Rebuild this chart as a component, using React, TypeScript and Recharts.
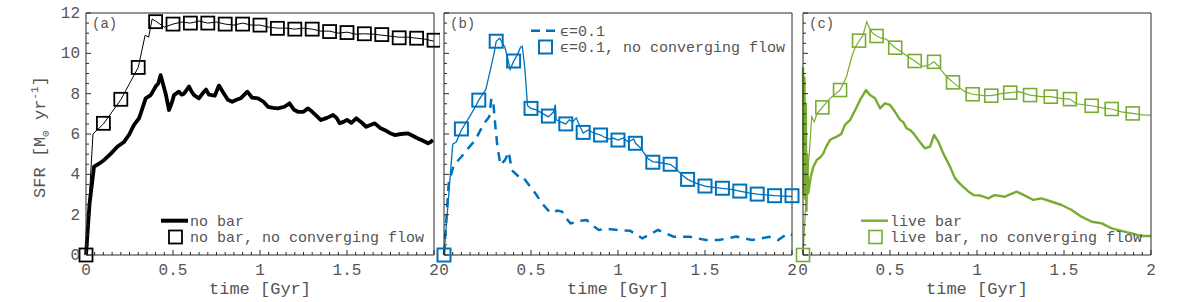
import React from 'react';
import { ComposedChart, Line, Scatter, XAxis, YAxis, Legend, Label } from 'recharts';

const FONT = '"Liberation Mono", "DejaVu Sans Mono", monospace';
const INK = '#555';
const FRAME = '#2b2b2b';
const BLUE = '#0072BD';
const GREEN = '#77AC30';

// axis ticks
const X_MAJOR = [0, 0.5, 1, 1.5, 2];
const Y_MAJOR = [0, 2, 4, 6, 8, 10, 12];
const X_TICKS = Array.from({ length: 41 }, (_, i) => i / 20);
const Y_TICKS = Array.from({ length: 25 }, (_, i) => i / 2);

const X_LABEL = 'time [Gyr]';
const PANEL_TAGS = ['(a)', '(b)', '(c)'];
const LEGEND_A = ['no bar', 'no bar, no converging flow'];
const LEGEND_B = ['ϵ=0.1', 'ϵ=0.1, no converging flow'];
const LEGEND_C = ['live bar', 'live bar, no converging flow'];

// (a) no bar
const A_BAR_T = [0, 0.02, 0.046, 0.07, 0.103, 0.14, 0.18, 0.218, 0.25, 0.276, 0.305, 0.325, 0.343, 0.372, 0.4, 0.415, 0.429, 0.445, 0.458, 0.477, 0.495, 0.506, 0.534, 0.55, 0.563, 0.592, 0.607, 0.621, 0.649, 0.678, 0.69, 0.707, 0.74, 0.764, 0.793, 0.815, 0.84, 0.865, 0.889, 0.927, 0.955, 0.989, 1.02, 1.046, 1.075, 1.103, 1.14, 1.17, 1.195, 1.218, 1.25, 1.276, 1.3, 1.325, 1.35, 1.385, 1.42, 1.44, 1.458, 1.48, 1.5, 1.525, 1.553, 1.58, 1.61, 1.635, 1.66, 1.69, 1.716, 1.745, 1.774, 1.81, 1.85, 1.88, 1.908, 1.94, 1.966, 1.98, 1.994];
const A_BAR_SFR = [0, 2.5, 4.38, 4.5, 4.7, 5.0, 5.37, 5.6, 6.0, 6.45, 6.78, 7.3, 7.77, 7.93, 8.35, 8.5, 8.92, 8.4, 8.0, 7.19, 7.6, 7.93, 8.1, 7.95, 8.0, 8.35, 8.1, 7.93, 7.77, 8.1, 8.2, 7.95, 7.9, 8.4, 8.0, 7.7, 7.6, 7.7, 7.77, 8.1, 7.8, 7.77, 7.6, 7.35, 7.3, 7.27, 7.35, 7.52, 7.2, 7.1, 7.1, 7.27, 7.1, 6.9, 6.69, 6.8, 6.94, 6.8, 6.53, 6.6, 6.7, 6.55, 6.78, 6.6, 6.36, 6.45, 6.53, 6.3, 6.2, 6.05, 5.95, 6.0, 6.03, 5.9, 5.78, 5.65, 5.54, 5.6, 5.7];

// (a) no bar, no converging flow
const A_NCF_T = [0, 0.04, 0.1, 0.2, 0.3, 0.34, 0.36, 0.38, 0.4, 0.45, 0.5, 0.55, 0.6, 0.65, 0.7, 0.75, 0.8, 0.85, 0.9, 0.95, 1.0, 1.05, 1.1, 1.15, 1.2, 1.25, 1.3, 1.35, 1.4, 1.45, 1.5, 1.55, 1.6, 1.65, 1.7, 1.75, 1.8, 1.85, 1.9, 1.95, 2.0];
const A_NCF_SFR = [0, 6.0, 6.5, 7.7, 9.3, 10.9, 10.8, 11.7, 11.6, 11.3, 11.45, 11.55, 11.5, 11.6, 11.5, 11.55, 11.45, 11.4, 11.5, 11.4, 11.4, 11.3, 11.25, 11.25, 11.2, 11.25, 11.2, 11.1, 11.1, 11.0, 11.05, 10.95, 10.97, 10.95, 10.9, 10.85, 10.8, 10.8, 10.75, 10.7, 10.6];

// square markers every 0.1 Gyr in (a) and (b)
const SQ_T = [0, 0.1, 0.2, 0.3, 0.4, 0.5, 0.6, 0.7, 0.8, 0.9, 1.0, 1.1, 1.2, 1.3, 1.4, 1.5, 1.6, 1.7, 1.8, 1.9, 2.0];
const A_SQ_SFR = [0, 6.53, 7.72, 9.3, 11.57, 11.45, 11.5, 11.5, 11.45, 11.45, 11.4, 11.24, 11.2, 11.2, 11.08, 11.03, 10.97, 10.93, 10.77, 10.75, 10.65];

// (b) eps = 0.1 (dashed)
const B_EPS_T = [0, 0.027, 0.056, 0.1, 0.14, 0.18, 0.21, 0.237, 0.26, 0.272, 0.285, 0.295, 0.305, 0.324, 0.35, 0.372, 0.39, 0.43, 0.45, 0.496, 0.53, 0.563, 0.6, 0.62, 0.65, 0.678, 0.7, 0.726, 0.75, 0.78, 0.82, 0.85, 0.889, 0.94, 1.0, 1.07, 1.14, 1.23, 1.32, 1.41, 1.505, 1.58, 1.68, 1.77, 1.87, 1.92, 1.975, 2.0];
const B_EPS_SFR = [0, 3.55, 4.46, 4.87, 5.3, 5.7, 6.2, 6.6, 6.85, 7.77, 7.4, 6.4, 5.54, 4.46, 4.7, 5.12, 4.2, 3.88, 3.9, 3.39, 3.0, 2.56, 2.2, 2.07, 2.2, 2.15, 1.85, 1.57, 1.6, 1.7, 1.73, 1.5, 1.24, 1.3, 1.24, 1.2, 0.83, 1.24, 0.91, 0.91, 0.74, 0.74, 0.91, 0.74, 0.9, 0.74, 1.07, 1.0];

// (b) eps = 0.1, no converging flow
const B_NCF_T = [0, 0.05, 0.07, 0.1, 0.15, 0.18, 0.2, 0.24, 0.27, 0.29, 0.3, 0.32, 0.33, 0.35, 0.37, 0.38, 0.4, 0.42, 0.44, 0.45, 0.465, 0.48, 0.5, 0.53, 0.55, 0.58, 0.6, 0.63, 0.64, 0.645, 0.67, 0.7, 0.72, 0.74, 0.76, 0.78, 0.8, 0.83, 0.86, 0.9, 0.92, 0.95, 0.97, 1.0, 1.03, 1.06, 1.09, 1.1, 1.13, 1.17, 1.2, 1.23, 1.26, 1.3, 1.33, 1.37, 1.4, 1.45, 1.5, 1.55, 1.6, 1.65, 1.7, 1.75, 1.8, 1.85, 1.9, 1.95, 2.0];
const B_NCF_SFR = [0, 5.5, 5.6, 6.2, 6.9, 7.35, 7.68, 8.2, 9.3, 10.1, 10.6, 10.75, 10.6, 10.3, 9.6, 9.2, 9.6, 9.9, 10.3, 10.35, 9.2, 7.4, 7.27, 7.2, 7.1, 6.95, 6.85, 7.1, 7.45, 6.7, 6.6, 6.5, 6.7, 6.6, 6.8, 6.4, 6.05, 6.2, 6.05, 5.95, 5.85, 5.75, 5.8, 5.7, 5.8, 5.6, 5.75, 5.55, 5.3, 4.8, 4.62, 4.6, 4.55, 4.5, 4.3, 3.95, 3.75, 3.55, 3.42, 3.35, 3.3, 3.25, 3.17, 3.08, 3.02, 2.98, 2.94, 2.92, 2.9];
const B_SQ_SFR = [0, 6.25, 7.68, 10.6, 9.62, 7.27, 6.89, 6.5, 6.08, 5.95, 5.7, 5.54, 4.6, 4.5, 3.75, 3.42, 3.31, 3.17, 3.02, 2.94, 2.94];

// (c) live bar
const C_BAR_T = [0, 0.004, 0.008, 0.012, 0.016, 0.02, 0.024, 0.03, 0.045, 0.06, 0.079, 0.1, 0.117, 0.135, 0.155, 0.175, 0.194, 0.22, 0.241, 0.27, 0.3, 0.328, 0.35, 0.362, 0.385, 0.414, 0.443, 0.471, 0.5, 0.529, 0.558, 0.575, 0.596, 0.615, 0.635, 0.663, 0.7, 0.73, 0.753, 0.778, 0.806, 0.845, 0.874, 0.9, 0.92, 0.95, 0.98, 1.02, 1.065, 1.1, 1.16, 1.228, 1.27, 1.324, 1.37, 1.43, 1.486, 1.544, 1.6, 1.66, 1.717, 1.774, 1.83, 1.889, 1.946, 2.0];
const C_BAR_SFR = [9.3, 3.0, 8.8, 2.8, 7.5, 2.2, 5.0, 3.06, 3.9, 4.38, 4.71, 4.85, 5.04, 5.4, 5.7, 5.8, 5.87, 6.0, 6.45, 6.69, 7.19, 7.69, 8.0, 8.18, 7.93, 7.77, 7.27, 7.52, 7.44, 7.1, 6.7, 6.6, 6.28, 6.2, 6.03, 5.7, 5.29, 5.37, 5.95, 5.62, 5.04, 4.38, 3.8, 3.55, 3.39, 3.15, 2.97, 2.95, 2.81, 2.97, 2.89, 3.14, 2.97, 2.73, 2.81, 2.64, 2.48, 2.23, 1.9, 1.65, 1.57, 1.32, 1.2, 1.07, 0.94, 0.94];

// (c) live bar, no converging flow
const C_NCF_T = [0, 0.02, 0.04, 0.05, 0.065, 0.08, 0.111, 0.156, 0.213, 0.25, 0.28, 0.3, 0.322, 0.345, 0.366, 0.385, 0.4, 0.423, 0.45, 0.48, 0.5, 0.53, 0.56, 0.6, 0.642, 0.67, 0.69, 0.72, 0.753, 0.78, 0.8, 0.83, 0.862, 0.9, 0.93, 0.975, 1.04, 1.082, 1.14, 1.191, 1.24, 1.305, 1.37, 1.424, 1.49, 1.534, 1.57, 1.659, 1.72, 1.774, 1.83, 1.895, 1.95, 2.0];
const C_NCF_SFR = [0, 3.2, 5.5, 6.86, 6.6, 7.0, 7.32, 7.77, 8.18, 8.84, 9.83, 10.3, 10.6, 10.9, 11.57, 11.2, 11.0, 10.86, 10.75, 10.7, 10.5, 10.28, 10.1, 9.85, 9.62, 9.45, 9.35, 9.4, 9.58, 9.35, 9.1, 8.8, 8.56, 8.3, 8.1, 7.97, 7.9, 7.9, 8.0, 8.05, 8.1, 7.93, 7.85, 7.85, 7.75, 7.73, 7.5, 7.4, 7.3, 7.24, 7.1, 7.02, 6.95, 6.94];
const C_SQ_T = [0, 0.111, 0.213, 0.322, 0.423, 0.53, 0.642, 0.753, 0.862, 0.975, 1.082, 1.191, 1.305, 1.424, 1.534, 1.659, 1.774, 1.895];
const C_SQ_SFR = [0, 7.32, 8.18, 10.63, 10.86, 10.28, 9.62, 9.58, 8.56, 7.97, 7.9, 8.05, 7.93, 7.85, 7.73, 7.4, 7.24, 7.02];

const zip = (t: number[], v: number[]) => t.map((x, i) => ({ t: x, v: v[i] }));

const BottomTick = (p: any) => {
  const major = X_MAJOR.includes(p.payload.value);
  return (
    <g>
      <line x1={p.x} x2={p.x} y1={p.y} y2={p.y - (major ? 5 : 3)} stroke={FRAME} />
      {major && (
        <text x={p.x} y={p.y + 20} textAnchor="middle" fontFamily={FONT} fontSize={16} fill={INK}>
          {p.payload.value}
        </text>
      )}
    </g>
  );
};

const TopTick = (p: any) => {
  const major = X_MAJOR.includes(p.payload.value);
  return <line x1={p.x} x2={p.x} y1={p.y} y2={p.y + (major ? 5 : 3)} stroke={FRAME} />;
};

const makeLeftTick = (showLabels: boolean) => (p: any) => {
  const major = Y_MAJOR.includes(p.payload.value);
  return (
    <g>
      <line x1={p.x} x2={p.x + (major ? 5 : 3)} y1={p.y} y2={p.y} stroke={FRAME} />
      {showLabels && major && (
        <text x={p.x - 6} y={p.y + 5} textAnchor="end" fontFamily={FONT} fontSize={16} fill={INK}>
          {p.payload.value}
        </text>
      )}
    </g>
  );
};

const RightTick = (p: any) => {
  const major = Y_MAJOR.includes(p.payload.value);
  return <line x1={p.x} x2={p.x - (major ? 5 : 3)} y1={p.y} y2={p.y} stroke={FRAME} />;
};

const renderXLabel = (p: any) => {
  const vb = p.viewBox || {};
  return (
    <text x={vb.x + vb.width / 2} y={vb.y + 39} textAnchor="middle" fontFamily={FONT} fontSize={17} fill={INK}>
      {X_LABEL}
    </text>
  );
};

const makeTag = (tag: string) => (p: any) => {
  const vb = p.viewBox || {};
  return (
    <text x={vb.x + 6} y={vb.y + 16} fontFamily={FONT} fontSize={14} fill={INK}>
      {tag}
    </text>
  );
};

const renderYLabel = (p: any) => {
  const vb = p.viewBox || {};
  const x = vb.x - 40;
  const y = vb.y + vb.height / 2 + 3;
  return (
    <text x={x} y={y} transform={`rotate(-90, ${x}, ${y})`} textAnchor="middle" fontFamily={FONT} fontSize={17} fill={INK}>
      SFR [M<tspan dy={4} fontSize={11}>⊙</tspan>
      <tspan dy={-4}> yr</tspan>
      <tspan dy={-7} fontSize={11}>-1</tspan>
      <tspan dy={7}>]</tspan>
    </text>
  );
};

// axes are 1px thick: Recharts skips drawing an axis whose size is 0
const frame = (showYLabels: boolean, tag: string) => [
  <XAxis key="xb" type="number" dataKey="t" domain={[0, 2]} ticks={X_TICKS} interval={0} height={1}
    tickSize={0} tickMargin={0} tickLine={false} axisLine={{ stroke: FRAME }} tick={BottomTick}>
    <Label content={renderXLabel} />
  </XAxis>,
  <XAxis key="xt" xAxisId="top" orientation="top" type="number" dataKey="t" domain={[0, 2]} ticks={X_TICKS}
    interval={0} height={1} tickSize={0} tickMargin={0} tickLine={false} axisLine={{ stroke: FRAME }} tick={TopTick}>
    <Label content={makeTag(tag)} />
  </XAxis>,
  <YAxis key="yl" type="number" domain={[0, 12]} ticks={Y_TICKS} interval={0} width={1} tickSize={0}
    tickMargin={0} tickLine={false} axisLine={{ stroke: FRAME }} tick={makeLeftTick(showYLabels)}>
    {showYLabels && <Label content={renderYLabel} />}
  </YAxis>,
  <YAxis key="yr" yAxisId="right" orientation="right" type="number" domain={[0, 12]} ticks={Y_TICKS}
    interval={0} width={1} tickSize={0} tickMargin={0} tickLine={false} axisLine={{ stroke: FRAME }} tick={RightTick} />,
];

const square = (color: string, w: number) => (p: any) => (
  <rect x={p.cx - 6.5} y={p.cy - 6.5} width={13} height={13} fill="none" stroke={color} strokeWidth={w} />
);

const legendText = { fontFamily: FONT, fontSize: 15, fill: INK };

const PanelLegend = ({ labels, color, dashed, lineWidth, sqWidth }: any) => (
  <svg width={300} height={40} style={{ display: 'block' }}>
    <line x1={11} x2={38} y1={10.7} y2={10.7} stroke={color} strokeWidth={lineWidth}
      strokeDasharray={dashed ? '9 6' : undefined} />
    <text x={40} y={15.5} {...legendText}>{labels[0]}</text>
    <rect x={19} y={20.5} width={13} height={13} fill="none" stroke={color} strokeWidth={sqWidth} />
    <text x={40} y={32} {...legendText}>{labels[1]}</text>
  </svg>
);

const legendProps = { layout: 'vertical' as const, align: 'center' as const, verticalAlign: 'middle' as const };

export default function App() {
  return (
    <div style={{ position: 'absolute', left: 0, top: 0, width: 1200, height: 302, background: '#fff' }}>
      <div style={{ position: 'absolute', left: 0, top: 0 }}>
        <ComposedChart width={440} height={302} margin={{ top: 12, right: 5, bottom: 46, left: 85 }}>
          {frame(true, PANEL_TAGS[0])}
          <Line data={zip(A_NCF_T, A_NCF_SFR)} dataKey="v" stroke="#000" strokeWidth={1} dot={false}
            activeDot={false} isAnimationActive={false} />
          <Line data={zip(A_BAR_T, A_BAR_SFR)} dataKey="v" stroke="#000" strokeWidth={3.8} dot={false}
            activeDot={false} strokeLinejoin="round" isAnimationActive={false} />
          <Scatter data={zip(SQ_T, A_SQ_SFR)} dataKey="v" shape={square('#000', 1.8)} isAnimationActive={false} />
          <Legend {...legendProps} wrapperStyle={{ position: 'absolute', left: 150, top: 210, width: 300, height: 40 }}
            content={() => <PanelLegend labels={LEGEND_A} color="#000" lineWidth={4} sqWidth={1.8} />} />
        </ComposedChart>
      </div>
      <div style={{ position: 'absolute', left: 436, top: 0 }}>
        <ComposedChart width={364} height={302} margin={{ top: 12, right: 7, bottom: 46, left: 7 }}>
          {frame(false, PANEL_TAGS[1])}
          <Line data={zip(B_EPS_T, B_EPS_SFR)} dataKey="v" stroke={BLUE} strokeWidth={2.5} strokeDasharray="9 7"
            dot={false} activeDot={false} isAnimationActive={false} />
          <Line data={zip(B_NCF_T, B_NCF_SFR)} dataKey="v" stroke={BLUE} strokeWidth={1.3} dot={false}
            activeDot={false} isAnimationActive={false} />
          <Scatter data={zip(SQ_T, B_SQ_SFR)} dataKey="v" shape={square(BLUE, 2)} isAnimationActive={false} />
          <Legend {...legendProps} wrapperStyle={{ position: 'absolute', left: 84, top: 20, width: 300, height: 40 }}
            content={() => <PanelLegend labels={LEGEND_B} color={BLUE} dashed lineWidth={2.5} sqWidth={2} />} />
        </ComposedChart>
      </div>
      <div style={{ position: 'absolute', left: 795, top: 0 }}>
        <ComposedChart width={405} height={302} margin={{ top: 12, right: 48, bottom: 46, left: 7 }}>
          {frame(false, PANEL_TAGS[2])}
          <Line data={zip(C_BAR_T, C_BAR_SFR)} dataKey="v" stroke={GREEN} strokeWidth={2.4} dot={false}
            activeDot={false} strokeLinejoin="round" isAnimationActive={false} />
          <Line data={zip(C_NCF_T, C_NCF_SFR)} dataKey="v" stroke={GREEN} strokeWidth={1.2} dot={false}
            activeDot={false} isAnimationActive={false} />
          <Scatter data={zip(C_SQ_T, C_SQ_SFR)} dataKey="v" shape={square(GREEN, 1.6)} isAnimationActive={false} />
          <Legend {...legendProps} wrapperStyle={{ position: 'absolute', left: 55, top: 210, width: 300, height: 40 }}
            content={() => <PanelLegend labels={LEGEND_C} color={GREEN} lineWidth={2.4} sqWidth={1.6} />} />
        </ComposedChart>
      </div>
    </div>
  );
}
